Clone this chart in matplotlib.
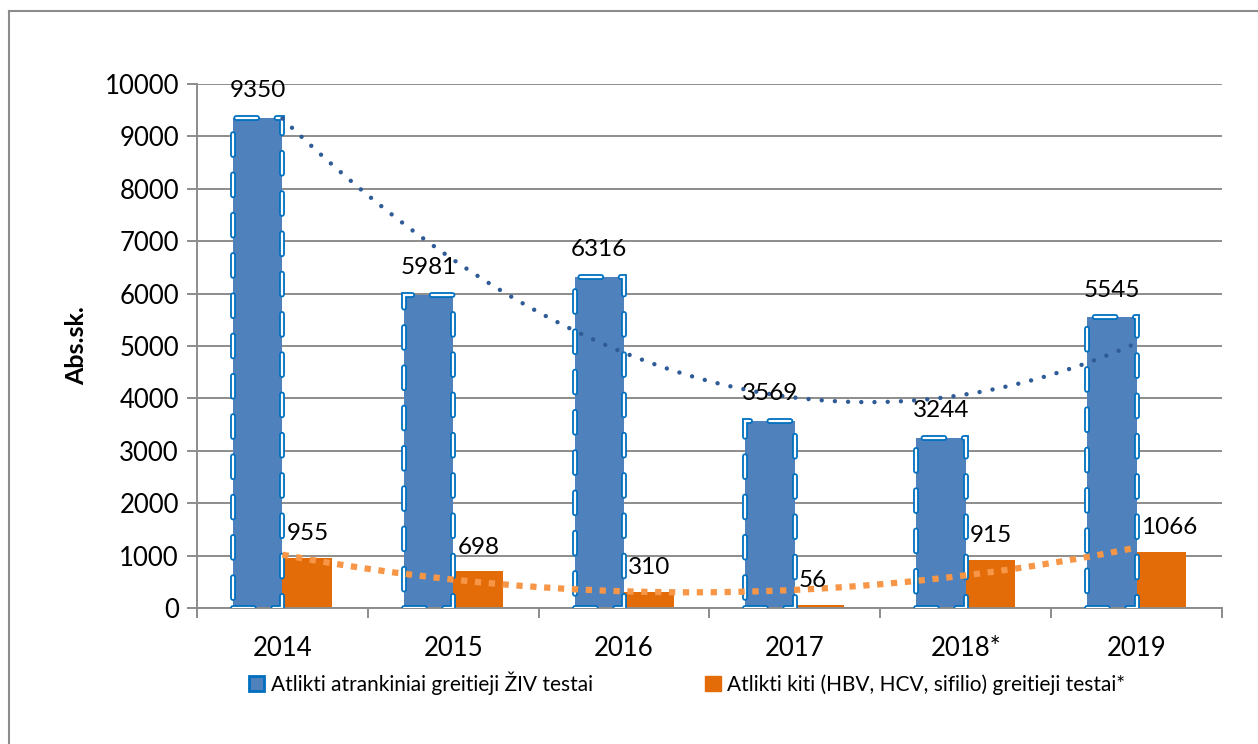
import matplotlib
matplotlib.use("Agg")
import matplotlib.pyplot as plt
import numpy as np
from matplotlib.lines import Line2D
from matplotlib.patches import Patch

plt.rcParams['font.family'] = ['Lato', 'DejaVu Sans']
plt.rcParams['lines.scale_dashes'] = False

years = ["2014", "2015", "2016", "2017", "2018*", "2019"]
hiv_tests = [9350, 5981, 6316, 3569, 3244, 5545]
other_tests = [955, 698, 310, 56, 915, 1066]
label_hiv = "Atlikti atrankiniai greitieji ŽIV testai"
label_other = "Atlikti kiti (HBV, HCV, sifilio) greitieji testai*"
yticks = [0, 1000, 2000, 3000, 4000, 5000, 6000, 7000, 8000, 9000, 10000]

W, H = 1258, 744
fig = plt.figure(figsize=(W / 100, H / 100), dpi=100)
ax = fig.add_axes([197 / W, 1 - 608 / H, (1222 - 197) / W, (608 - 84) / H])

x = np.arange(len(years))
bw = 0.29
blue = '#4F81BD'
edge_blue = '#0070C0'
orange = '#E36C09'

# gridlines
for v in yticks:
    ax.axhline(v, color='#8C8C8C', lw=1.4, zorder=0)

bars_b = ax.bar(x - bw / 2, hiv_tests, bw, color=blue, zorder=2)
dash = (0, (15, 14))
for b in bars_b:
    rx, ry = b.get_x(), b.get_y()
    ax.bar(rx + bw / 2, b.get_height(), bw, bottom=ry, facecolor='none',
           edgecolor=edge_blue, lw=4.2, linestyle=dash, capstyle='round', zorder=3)
    ax.bar(rx + bw / 2, b.get_height(), bw, bottom=ry, facecolor='none',
           edgecolor='white', lw=1.6, linestyle=dash, capstyle='round', zorder=4)

bars_o = ax.bar(x + bw / 2, other_tests, bw, color=orange, zorder=2)

# polynomial trendlines (order 2)
xs = np.linspace(0, len(years) - 1, 200)
pb = np.polyfit(x, hiv_tests, 2)
po = np.polyfit(x, other_tests, 2)
ax.plot(xs, np.polyval(pb, xs), color='#2F5B96', lw=3.2, linestyle=(0, (0.01, 9.5)),
        dash_capstyle='round', zorder=5)
ax.plot(xs, np.polyval(po, xs), color='#F79646', lw=4.5, linestyle=(0, (4.5, 5.5)),
        dash_capstyle='butt', zorder=5)

# data labels
for xi, v in zip(x, hiv_tests):
    ax.annotate(str(v), (xi - bw / 2, v), xytext=(0, 12), textcoords='offset points',
                ha='center', va='bottom', fontsize=17.5, color='black', zorder=6)
for xi, v in zip(x, other_tests):
    ax.annotate(str(v), (xi, v), xytext=(3, 10), textcoords='offset points',
                ha='left', va='bottom', fontsize=17.5, color='black', zorder=6)

ax.set_xlim(-0.5, len(years) - 0.5)
ax.set_ylim(0, 10000)
ax.set_yticks(yticks)
ax.set_yticklabels([str(v) for v in yticks], fontsize=18.5)
ax.set_xticks(x)
ax.set_xticklabels(years, fontsize=18.5)
ax.tick_params(axis='x', length=0, pad=20)
ax.set_xticks(np.arange(-0.5, len(years)), minor=True)
ax.tick_params(axis='x', which='minor', length=7, color='#8C8C8C', width=1.4)
ax.tick_params(axis='y', length=7, color='#8C8C8C', width=1.4, pad=6)

for s in ['top', 'right']:
    ax.spines[s].set_visible(False)
for s in ['left', 'bottom']:
    ax.spines[s].set_color('#8C8C8C')
    ax.spines[s].set_linewidth(1.4)

ax.set_ylabel("Abs.sk.", fontsize=18, fontweight='bold', labelpad=12)

h1 = Patch(facecolor=blue, edgecolor=edge_blue, lw=2)
h2 = Patch(facecolor=orange, edgecolor=orange)
fig.legend([h1, h2], [label_hiv, label_other], loc='center', bbox_to_anchor=(0.546, 1 - 683 / H),
           ncol=2, frameon=False, fontsize=15, handlelength=0.75, handleheight=0.75,
           handletextpad=0.3, columnspacing=5.4)

# figure border (left and top)
fig.add_artist(Line2D([9 / W, 9 / W], [0, 1 - 11 / H], color='#8C8C8C', lw=1.5, transform=fig.transFigure))
fig.add_artist(Line2D([9 / W, 1], [1 - 11 / H, 1 - 11 / H], color='#8C8C8C', lw=1.5, transform=fig.transFigure))

fig.savefig("out.png", dpi=100)
